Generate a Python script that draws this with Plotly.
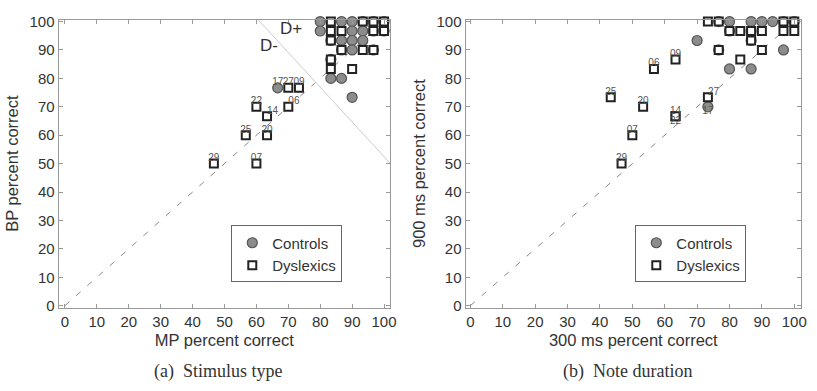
import plotly.graph_objects as go

W, H = 817, 391

# ---------------- Panel (a): Stimulus type ----------------
ctrl_a_x = [80, 86.67, 90, 93.33, 96.67, 100,
            80, 90, 93.33, 96.67, 100,
            83.33, 86.67, 90, 93.33,
            86.67, 90, 96.67,
            83.33,
            83.33, 86.67,
            90,
            66.67]
ctrl_a_y = [100, 100, 100, 100, 100, 100,
            96.67, 96.67, 96.67, 96.67, 96.67,
            93.33, 93.33, 93.33, 93.33,
            90, 90, 90,
            86.67,
            80, 80,
            73.33,
            76.67]
dys_a_x = [83.33, 93.33, 96.67, 100,
           83.33, 86.67, 96.67, 100,
           83.33,
           86.67, 93.33, 96.67,
           83.33,
           83.33, 90,
           70, 73.33, 60, 70, 63.33, 56.67, 63.33, 46.67, 60]
dys_a_y = [100, 100, 100, 100,
           96.67, 96.67, 96.67, 96.67,
           93.33,
           90, 90, 90,
           86.67,
           83.33, 83.33,
           76.67, 76.67, 70, 70, 66.67, 60, 60, 50, 50]
lab_a_text = ["17", "27", "09", "22", "06", "14", "25", "20", "29", "07"]
lab_a_x = [66.67, 70, 73.33, 60, 70, 63.33, 56.67, 63.33, 46.67, 60]
lab_a_y = [76.67, 76.67, 76.67, 70, 70, 66.67, 60, 60, 50, 50]
lab_a_pos = ["top center", "top center", "top center", "top center", "top right",
             "top right", "top center", "top center", "top center", "top center"]
dline_x = [60.5, 102]
dline_y = [100.7, 50]

# ---------------- Panel (b): Note duration ----------------
ctrl_b_x = [76.67, 80, 86.67, 90, 93.33, 96.67, 100,
            80, 86.67,
            70, 86.67,
            76.67, 96.67,
            80, 86.67,
            73.33]
ctrl_b_y = [100, 100, 100, 100, 100, 100, 100,
            96.67, 96.67,
            93.33, 93.33,
            90, 90,
            83.33, 83.33,
            70]
dys_b_x = [73.33, 76.67, 96.67, 100,
           80, 83.33, 86.67, 90, 96.67, 100,
           86.67,
           76.67, 90,
           83.33,
           63.33, 56.67, 43.33, 53.33, 73.33, 63.33, 63.33, 50, 46.67]
dys_b_y = [100, 100, 100, 100,
           96.67, 96.67, 96.67, 96.67, 96.67, 96.67,
           93.33,
           90, 90,
           86.67,
           86.67, 83.33, 73.33, 70, 73.33, 66.67, 66.67, 60, 50]
lab_b_text = ["09", "06", "25", "20", "27", "14", "22", "07", "29", "17"]
lab_b_x = [63.33, 56.67, 43.33, 53.33, 73.33, 63.33, 63.33, 50, 46.67, 73.33]
lab_b_y = [86.67, 83.33, 73.33, 70, 73.33, 66.67, 66.67, 60, 50, 70]
lab_b_pos = ["top center", "top center", "top center", "top center", "top right",
             "top center", "bottom center", "top center", "top center", "bottom center"]

diag = [0, 100]
ticks = [0, 10, 20, 30, 40, 50, 60, 70, 80, 90, 100]

ctrl_marker = dict(symbol="circle", size=10, color="#8c8c8c", line=dict(color="#555555", width=1.2))
dys_marker = dict(symbol="square", size=8, color="white", line=dict(color="#222222", width=2))
txt_col = "#333333"
axis_col = "#999999"

fig = go.Figure()

for xa, ya, leg, cx, cy, dx, dy, lx, ly, lt, lp in [
    ("x", "y", "legend", ctrl_a_x, ctrl_a_y, dys_a_x, dys_a_y, lab_a_x, lab_a_y, lab_a_text, lab_a_pos),
    ("x2", "y2", "legend2", ctrl_b_x, ctrl_b_y, dys_b_x, dys_b_y, lab_b_x, lab_b_y, lab_b_text, lab_b_pos),
]:
    fig.add_trace(go.Scatter(x=diag, y=diag, mode="lines", xaxis=xa, yaxis=ya,
                             line=dict(color="#888888", width=1, dash="6px,9px"),
                             showlegend=False, hoverinfo="skip"))
    fig.add_trace(go.Scatter(x=cx, y=cy, mode="markers", name="Controls", xaxis=xa, yaxis=ya,
                             marker=ctrl_marker, legend=leg, cliponaxis=False))
    fig.add_trace(go.Scatter(x=dx, y=dy, mode="markers", name="Dyslexics", xaxis=xa, yaxis=ya,
                             marker=dys_marker, legend=leg, cliponaxis=False))
    fig.add_trace(go.Scatter(x=lx, y=ly, mode="text", text=lt, textposition=lp, xaxis=xa, yaxis=ya,
                             textfont=dict(size=10, color="#555555"), showlegend=False,
                             hoverinfo="skip", cliponaxis=False))

fig.add_trace(go.Scatter(x=dline_x, y=dline_y, mode="lines", xaxis="x", yaxis="y",
                         line=dict(color="#cccccc", width=1), showlegend=False, hoverinfo="skip"))

def px_x(p):
    return p / W

def px_y(p):
    return (H - p) / H

ydom = [px_y(311), px_y(13)]
axis_common = dict(showgrid=False, zeroline=False, showline=True, linecolor=axis_col, linewidth=1,
                   mirror="allticks", ticks="inside", ticklen=4, tickcolor=axis_col,
                   tickvals=ticks, tickfont=dict(family="Liberation Sans, Arial", size=15, color=txt_col))
title_font = dict(family="Liberation Sans, Arial", size=16.5, color=txt_col)

fig.update_layout(
    width=W, height=H, margin=dict(l=0, r=0, t=0, b=0),
    paper_bgcolor="white", plot_bgcolor="white",
    font=dict(family="Liberation Sans, Arial", color=txt_col),
    xaxis=dict(domain=[px_x(59), px_x(393)], range=[-2, 101.9], anchor="y",
               title=dict(text="MP percent correct", font=title_font, standoff=5),
               **axis_common),
    yaxis=dict(domain=ydom, range=[-0.7, 100.7], anchor="x",
               title=dict(text="BP percent correct", font=title_font, standoff=6),
               **axis_common),
    xaxis2=dict(domain=[px_x(469), px_x(807)], range=[-1.5, 102.1], anchor="y2",
                title=dict(text="300 ms percent correct", font=title_font, standoff=5),
                **axis_common),
    yaxis2=dict(domain=ydom, range=[-0.7, 100.7], anchor="x2",
                title=dict(text="900 ms percent correct", font=title_font, standoff=6),
                **axis_common),
    legend=dict(x=px_x(233), y=px_y(226), xanchor="left", yanchor="top",
                bgcolor="white", bordercolor="#666666", borderwidth=1,
                font=dict(size=15, color=txt_col), itemwidth=30, tracegroupgap=4),
    legend2=dict(x=px_x(640), y=px_y(226), xanchor="left", yanchor="top",
                 bgcolor="white", bordercolor="#666666", borderwidth=1,
                 font=dict(size=15, color=txt_col), itemwidth=30, tracegroupgap=4),
    showlegend=True,
)

fig.add_annotation(x=70.8, y=97.5, xref="x", yref="y", text="D+", showarrow=False,
                   font=dict(size=17, color=txt_col))
fig.add_annotation(x=64, y=91.5, xref="x", yref="y", text="D-", showarrow=False,
                   font=dict(size=17, color=txt_col))
fig.add_annotation(x=px_x(220), y=px_y(377), xref="paper", yref="paper", text="(a)  Stimulus type",
                   xanchor="center", yanchor="middle", showarrow=False,
                   font=dict(family="Liberation Serif, Times New Roman", size=18, color=txt_col))
fig.add_annotation(x=px_x(632), y=px_y(377), xref="paper", yref="paper", text="(b)  Note duration",
                   xanchor="center", yanchor="middle", showarrow=False,
                   font=dict(family="Liberation Serif, Times New Roman", size=18, color=txt_col))

fig.write_html("out.html")
